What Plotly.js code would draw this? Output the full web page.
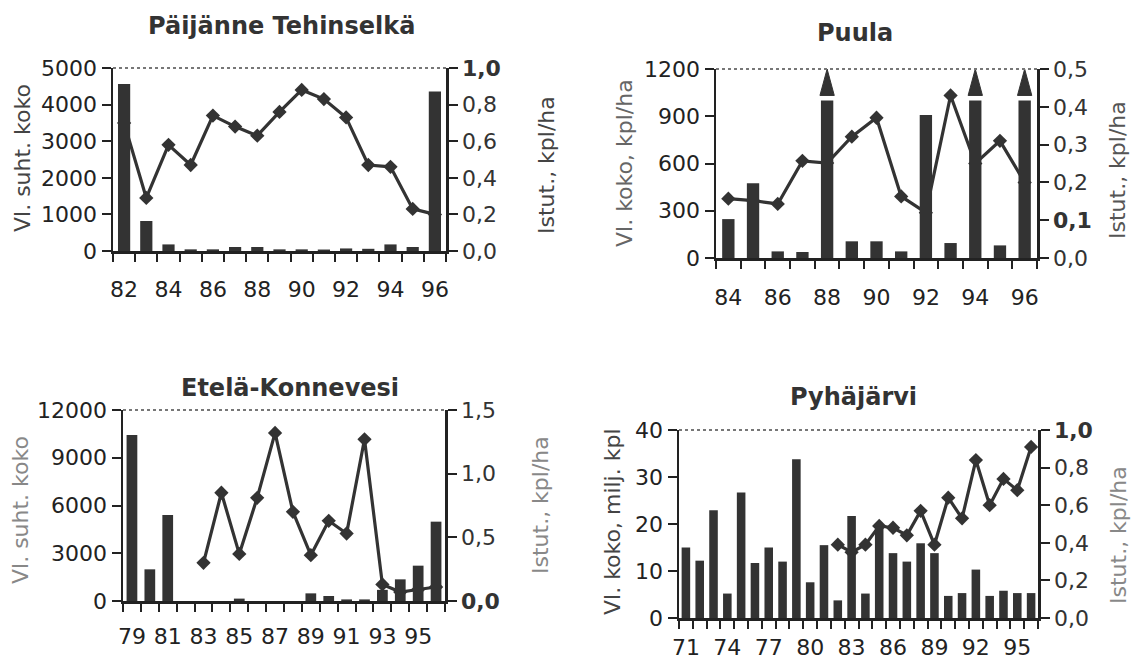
<!DOCTYPE html>
<html>
<head>
<meta charset="utf-8">
<script src="https://cdn.plot.ly/plotly-3.0.1.min.js"></script>
<style>html,body{margin:0;padding:0;background:#fff;}#chart{width:1131px;height:663px;}</style>
</head>
<body>
<div id="chart"></div>
<script>
// ---------- DATA ----------
// Päijänne Tehinselkä
const p1Years = [82,83,84,85,86,87,88,89,90,91,92,93,94,95,96];
const p1Bars  = [4560,820,180,45,45,110,110,45,45,40,70,60,180,110,4360];
const p1Line  = [0.70,0.29,0.58,0.47,0.74,0.68,0.63,0.76,0.88,0.83,0.73,0.47,0.46,0.23,0.20];
const p1XLabels = [82,84,86,88,90,92,94,96];

// Puula
const p2Years = [84,85,86,87,88,89,90,91,92,93,94,95,96];
const p2Bars  = [247,475,42,38,1000,106,106,42,908,95,1000,80,1000];
const p2Line  = [0.157,0.152,0.143,0.257,0.251,0.321,0.371,0.163,0.12,0.43,0.25,0.31,0.20];
const p2Capped = [88,94,96];   // values exceeding the axis (arrow drawn)
const p2XLabels = [84,86,88,90,92,94,96];

// Etelä-Konnevesi
const p3Years = [79,80,81,82,83,84,85,86,87,88,89,90,91,92,93,94,95,96];
const p3Bars  = [10430,1990,5400,0,0,0,150,0,0,0,480,314,100,100,700,1360,2220,4985];
const p3Line  = [null,null,null,null,0.30,0.85,0.37,0.81,1.32,0.70,0.36,0.63,0.53,1.27,0.13,0.07,0.09,0.11];
const p3XLabels = [79,81,83,85,87,89,91,93,95];

// Pyhäjärvi
const p4Years = [71,72,73,74,75,76,77,78,79,80,81,82,83,84,85,86,87,88,89,90,91,92,93,94,95,96];
const p4Bars  = [15.0,12.2,22.9,5.2,26.7,11.7,15.0,12.0,33.8,7.6,15.5,3.75,21.7,5.2,19.5,13.8,12.0,15.9,13.8,4.7,5.3,10.3,4.7,5.8,5.3,5.3];
const p4Line  = [null,null,null,null,null,null,null,null,null,null,null,0.39,0.35,0.39,0.49,0.48,0.44,0.57,0.39,0.64,0.53,0.84,0.60,0.74,0.68,0.91];
const p4XLabels = [71,74,77,80,83,86,89,92,95];

const titles = ["Päijänne Tehinselkä","Puula","Etelä-Konnevesi","Pyhäjärvi"];
const leftTitles = ["Vl. suht. koko","Vl. koko, kpl/ha","Vl. suht. koko","Vl. koko, milj. kpl"];
const rightTitle = "Istut., kpl/ha";

const p1LeftTicks = [0,1000,2000,3000,4000,5000];
const p1RightTicks = [0,0.2,0.4,0.6,0.8,1.0];
const p1RightText = ["0,0","0,2","0,4","0,6","0,8","<b>1,0</b>"];
const p2LeftTicks = [0,300,600,900,1200];
const p2RightTicks = [0,0.1,0.2,0.3,0.4,0.5];
const p2RightText = ["0,0","<b>0,1</b>","0,2","0,3","0,4","0,5"];
const p3LeftTicks = [0,3000,6000,9000,12000];
const p3RightTicks = [0,0.5,1.0,1.5];
const p3RightText = ["<b>0,0</b>","0,5","1,0","1,5"];
const p4LeftTicks = [0,10,20,30,40];
const p4RightTicks = [0,0.2,0.4,0.6,0.8,1.0];
const p4RightText = ["0,0","0,2","0,4","0,6","0,8","<b>1,0</b>"];

// ---------- LAYOUT HELPERS ----------
const W = 1131, H = 663;
const FONT = "DejaVu Sans, Liberation Sans, sans-serif";
const DARK = "#333333";
const px = v => v / W;
const py = v => 1 - v / H;

const panels = [
  {years:p1Years, bars:p1Bars, line:p1Line, labels:p1XLabels, lt:p1LeftTicks, rt:p1RightTicks, rtt:p1RightText,
   lmax:5000, rmax:1.0, box:[113,446,68,251], bw:0.55, ltc:"#444", rtc:"#444", xlen:17,
   title:[281,26], lTitle:[22,158], rTitle:[546,165]},
  {years:p2Years, bars:p2Bars, line:p2Line, labels:p2XLabels, lt:p2LeftTicks, rt:p2RightTicks, rtt:p2RightText,
   lmax:1200, rmax:0.5, box:[716,1037,69,258], bw:0.5, ltc:"#666", rtc:"#555", xlen:18,
   title:[855,33], lTitle:[624,163], rTitle:[1118,170]},
  {years:p3Years, bars:p3Bars, line:p3Line, labels:p3XLabels, lt:p3LeftTicks, rt:p3RightTicks, rtt:p3RightText,
   lmax:12000, rmax:1.5, box:[123,445,410,601], bw:0.6, ltc:"#888", rtc:"#888", xlen:14,
   title:[290,388], lTitle:[20,510], rTitle:[540,505]},
  {years:p4Years, bars:p4Bars, line:p4Line, labels:p4XLabels, lt:p4LeftTicks, rt:p4RightTicks, rtt:p4RightText,
   lmax:40, rmax:1.0, box:[679,1038,430,618], bw:0.62, ltc:"#444", rtc:"#888", xlen:8,
   title:[853,397], lTitle:[612,522], rTitle:[1118,535]}
];

const data = [];
const layout = {
  width: W, height: H, autosize: false,
  margin: {l:0, r:0, t:0, b:0},
  paper_bgcolor: "#fff", plot_bgcolor: "rgba(0,0,0,0)",
  showlegend: false,
  font: {family: FONT, size: 22, color: "#222"},
  annotations: [], shapes: []
};

panels.forEach((p, i) => {
  const n = i + 1;
  const xName = "x" + (n === 1 ? "" : n);
  const xKey = "xaxis" + (n === 1 ? "" : n);
  const yR = 2*n - 1, yL = 2*n;           // base axis = right (line), overlay = left (bars on top)
  const yRName = "y" + (yR === 1 ? "" : yR), yLName = "y" + yL;
  const yRKey = "yaxis" + (yR === 1 ? "" : yR), yLKey = "yaxis" + yL;
  const first = p.years[0], last = p.years[p.years.length-1];
  const xd = [px(p.box[0]), px(p.box[1])];
  const yd = [py(p.box[3]), py(p.box[2])];

  const boundaries = [];
  for (let k = 0; k <= p.years.length; k++) boundaries.push(first - 0.5 + k);

  layout[xKey] = {
    domain: xd, anchor: yRName, range: [first - 0.5, last + 0.5],
    tickmode: "array", tickvals: p.labels, ticktext: p.labels.map(String),
    ticks: "outside", ticklen: p.xlen, tickcolor: "rgba(0,0,0,0)",
    tickfont: {family: FONT, size: 22, color: "#222"},
    showline: true, linecolor: "#222", linewidth: 2.5,
    showgrid: false, zeroline: false, fixedrange: true,
    minor: {tickmode: "array", tickvals: boundaries, ticks: "outside", ticklen: 8, tickwidth: 2, tickcolor: "#222", showgrid: false}
  };
  layout[yRKey] = {
    domain: yd, anchor: xName, side: "right", range: [0, p.rmax],
    tickmode: "array", tickvals: p.rt, ticktext: p.rtt,
    ticks: "outside", ticklen: 9, tickwidth: 2, tickcolor: "#222",
    tickfont: {family: FONT, size: 22, color: "#333"},
    showline: true, linecolor: "#222", linewidth: 2.5,
    showgrid: false, zeroline: false, fixedrange: true
  };
  layout[yLKey] = {
    domain: yd, anchor: xName, overlaying: yRName, side: "left", range: [0, p.lmax],
    tickmode: "array", tickvals: p.lt, ticktext: p.lt.map(String),
    ticks: "outside", ticklen: 9, tickwidth: 2, tickcolor: "#222",
    tickfont: {family: FONT, size: 22, color: "#222"},
    showline: true, linecolor: "#222", linewidth: 2.5,
    showgrid: false, zeroline: false, fixedrange: true
  };

  // line (right axis)
  data.push({
    type: "scatter", mode: "lines+markers", x: p.years, y: p.line,
    xaxis: xName, yaxis: yRName, connectgaps: false,
    line: {color: DARK, width: 3.2},
    marker: {symbol: "diamond", size: 11, color: DARK},
    hoverinfo: "skip"
  });
  // bars (left axis, drawn above line)
  data.push({
    type: "bar", x: p.years, y: p.bars, width: p.bw,
    xaxis: xName, yaxis: yLName,
    marker: {color: DARK, line: {width: 0}},
    hoverinfo: "skip"
  });

  // dotted top border
  layout.shapes.push({
    type: "line", xref: xName + " domain", yref: yRName + " domain",
    x0: 0, x1: 1, y0: 1, y1: 1,
    line: {color: "#777", width: 2, dash: "dot"}
  });

  // titles
  layout.annotations.push({
    xref: "paper", yref: "paper", x: px(p.title[0]), y: py(p.title[1]),
    xanchor: "center", yanchor: "middle", showarrow: false,
    text: "<b>" + titles[i] + "</b>",
    font: {family: FONT, size: 24, color: "#333"}
  });
  layout.annotations.push({
    xref: "paper", yref: "paper", x: px(p.lTitle[0]), y: py(p.lTitle[1]),
    xanchor: "center", yanchor: "middle", showarrow: false, textangle: -90,
    text: leftTitles[i], font: {family: FONT, size: 22, color: p.ltc}
  });
  layout.annotations.push({
    xref: "paper", yref: "paper", x: px(p.rTitle[0]), y: py(p.rTitle[1]),
    xanchor: "center", yanchor: "middle", showarrow: false, textangle: -90,
    text: rightTitle, font: {family: FONT, size: 22, color: p.rtc}
  });

  // Arrows for Puula capped bars
  if (i === 1) {
    const ax = [], ay = [];
    p2Capped.forEach(yr => {
      ax.push(yr - 0.29, yr, yr + 0.29, yr - 0.29, null);
      ay.push(p.lmax * 0.86, p.lmax, p.lmax * 0.86, p.lmax * 0.86, null);
    });
    data.push({
      type: "scatter", mode: "lines", x: ax, y: ay, fill: "toself",
      fillcolor: DARK, line: {color: DARK, width: 1},
      xaxis: xName, yaxis: yLName, hoverinfo: "skip"
    });
  }
});

Plotly.newPlot("chart", data, layout, {staticPlot: true, displayModeBar: false});
</script>
</body>
</html>
